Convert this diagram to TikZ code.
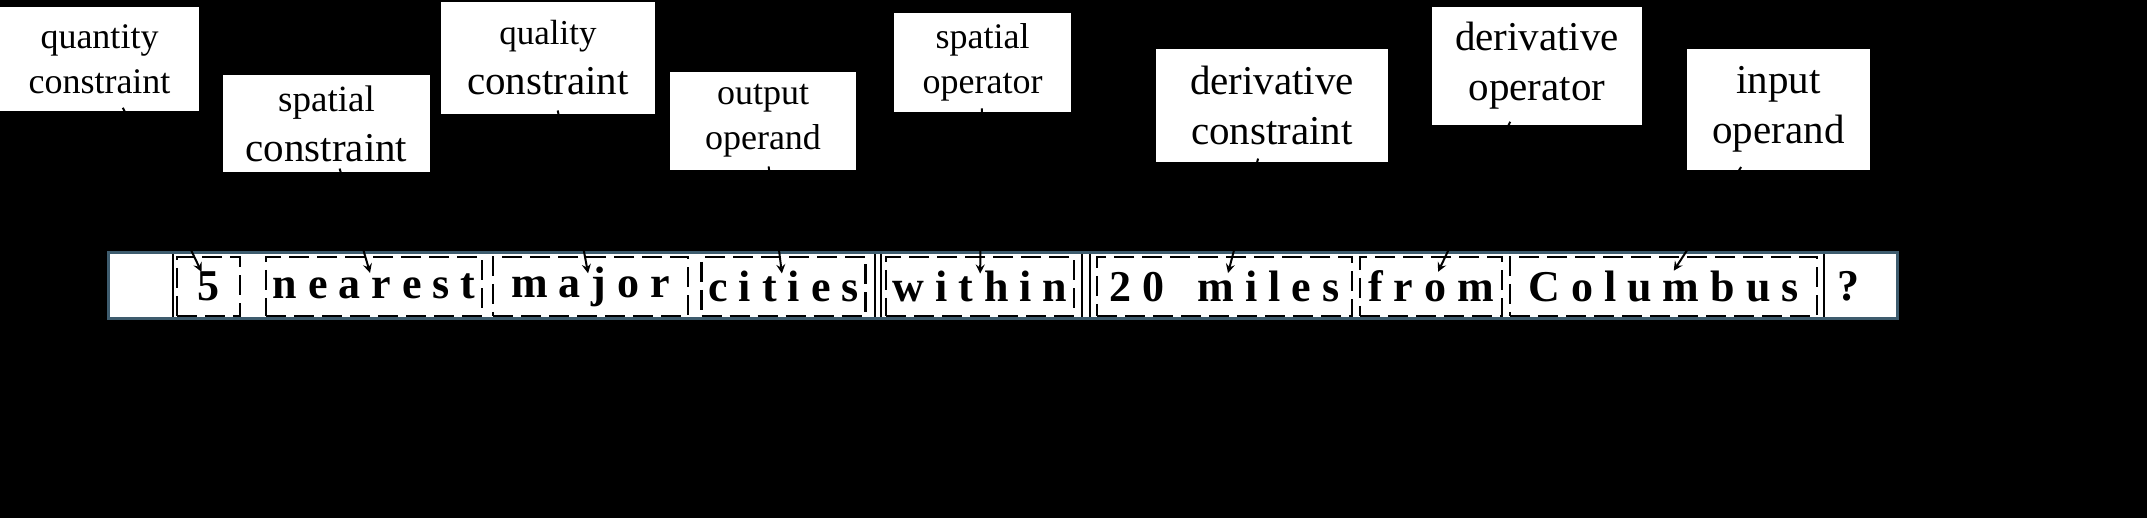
\documentclass[tikz,border=0pt]{standalone}
\usepackage{fontspec}
\setmainfont{Liberation Serif}
\usetikzlibrary{arrows}
\definecolor{barblue}{RGB}{62,92,110}

\begin{document}
\begin{tikzpicture}[x=0.5pt,y=-0.5pt,
   lab/.style={fill=white,inner sep=0pt,align=center,font=\fontsize{20.5}{25}\selectfont},
   small/.style={font=\fontsize{18}{22.5}\selectfont},
   word/.style={draw,dash pattern=on 10pt off 4pt,line width=1.4pt,fill=white,inner sep=0pt,
                minimum height=29.5pt,font=\fontsize{22}{26}\selectfont\bfseries},
   grp/.style={draw,line width=1pt},
   arr/.style={->,>=stealth,line width=1pt,shorten >=-9pt,shorten <=-2pt}]
   \fill[black] (0,0) rectangle (2147,518);
   % labels
   \node[lab,small,minimum width=99.5pt,minimum height=52pt] (qty) at (99.5,59) {quantity\\constraint};
   \node[lab,minimum width=103.5pt,minimum height=48.5pt] (spc) at (326.5,123.5) {{\fontsize{18.5}{22}\selectfont spatial}\\constraint};
   \node[lab,minimum width=107pt,minimum height=56pt] (qlt) at (548,58) {{\fontsize{17.5}{22}\selectfont quality}\\constraint};
   \node[lab,small,minimum width=93pt,minimum height=49pt] (outop) at (763,121) {output\\operand};
   \node[lab,small,minimum width=88.5pt,minimum height=49.5pt] (spop) at (982.5,62.5) {spatial\\operator};
   \node[lab,minimum width=116pt,minimum height=56.5pt] (dvc) at (1272,105.5) {derivative\\constraint};
   \node[lab,minimum width=105pt,minimum height=59pt] (dvop) at (1537,66) {derivative\\operator};
   \node[lab,minimum width=91.5pt,minimum height=60.5pt] (inop) at (1778.5,109.5) {input\\operand};
   % question bar
   \fill[white] (108,253) rectangle (1897,319);
   \draw[grp] (173,253) rectangle (875,319);
   \draw[grp] (881,253) rectangle (1082,319);
   \draw[grp] (1090,253) rectangle (1824,319);
   \draw[barblue,line width=1.5pt] (108,253) rectangle (1897,319);
   \node[word,minimum width=31.5pt] (w5) at (208.5,286.5) {5};
   \node[word,minimum width=108pt] (wnear) at (374,286.5) {n e a r e s t};
   \node[word,minimum width=97.5pt] (wmajor) at (590.5,286.5) {m a j o r};
   \node[word,minimum width=82pt] (wcities) at (783.5,286.5) {c i t i e s};
   \node[word,minimum width=94pt] (wwithin) at (980,286.5) {w i t h i n};
   \node[word,minimum width=127.5pt] (wmiles) at (1224.5,286.5) {2 0\ \ \ m i l e s};
   \node[word,minimum width=71pt] (wfrom) at (1431,286.5) {f r o m};
   \node[word,minimum width=153.5pt] (wcol) at (1663.5,286.5) {C o l u m b u s};
   \node[font=\fontsize{22}{26}\selectfont\bfseries] (qm) at (1848,286.5) {?};
   % arrows
   \draw[arr] (qty) -- (w5);
   \draw[arr] (spc) -- (wnear);
   \draw[arr] (qlt) -- (wmajor);
   \draw[arr] (outop) -- (wcities);
   \draw[arr] (spop) -- (wwithin);
   \draw[arr] (dvc) -- (wmiles);
   \draw[arr] (dvop) -- (wfrom);
   \draw[arr] (inop) -- (wcol);
\end{tikzpicture}
\end{document}
